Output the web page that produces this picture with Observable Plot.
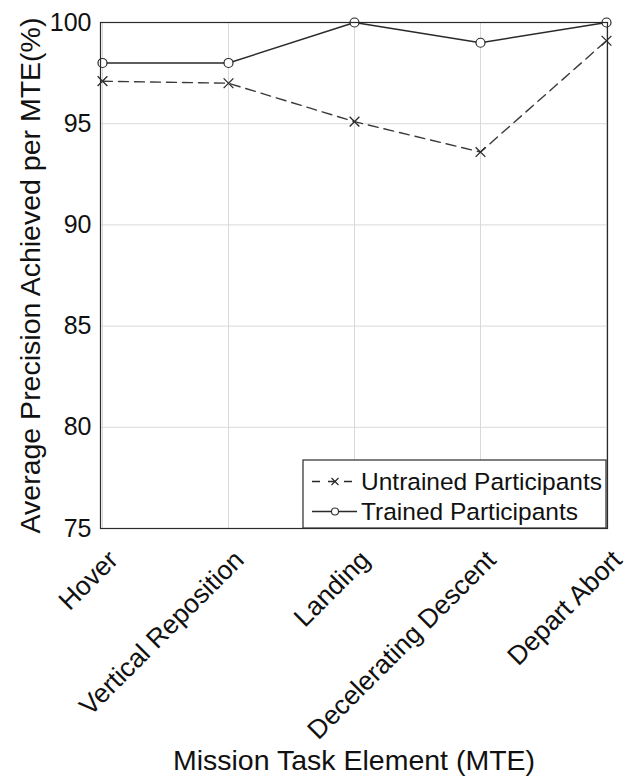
<!DOCTYPE html>
<html>
<head>
<meta charset="utf-8">
<script src="https://cdn.jsdelivr.net/npm/d3@7"></script>
<script src="https://cdn.jsdelivr.net/npm/@observablehq/plot@0.6"></script>
<style>
  html, body { margin: 0; padding: 0; background: #fff; }
  #chart { width: 629px; height: 778px; }
</style>
</head>
<body>
<div id="chart"></div>
<script>
const categories = ["Hover", "Vertical Reposition", "Landing", "Decelerating Descent", "Depart Abort"];
const untrained = [97.1, 97.0, 95.1, 93.6, 99.1];
const trained = [98.0, 98.0, 100.0, 99.0, 100.0];
const yTicks = [75, 80, 85, 90, 95, 100];
const seriesNames = ["Untrained Participants", "Trained Participants"];
const xTitle = "Mission Task Element (MTE)";
const yTitle = "Average Precision Achieved per MTE(%)";

const rowsU = categories.map((c, i) => ({cat: c, v: untrained[i]}));
const rowsT = categories.map((c, i) => ({cat: c, v: trained[i]}));

const FONT = "'Liberation Sans', Arial, Helvetica, sans-serif";
const ink = "#2b2b2b";

const plot = Plot.plot({
  width: 629,
  height: 778,
  marginLeft: 100,
  marginRight: 22,
  marginTop: 22,
  marginBottom: 250,
  style: {fontFamily: FONT, background: "#fff", color: ink},
  x: {type: "point", domain: categories, padding: 0},
  y: {domain: [75, 100]},
  marks: [
    Plot.gridX(categories, {stroke: "#d9d9d9", strokeOpacity: 1}),
    Plot.gridY(yTicks, {stroke: "#d9d9d9", strokeOpacity: 1}),
    Plot.axisY(yTicks, {tickSize: 0, tickPadding: 9, fontSize: 25, label: null, fill: "#111"}),
    Plot.axisX({ticks: [], label: null, tickSize: 0}),
    Plot.text(categories, {
      x: d => d, frameAnchor: "bottom", rotate: -45, textAnchor: "end", lineAnchor: "middle",
      dx: 11, dy: 27, fontSize: 26.5, fill: "#111"
    }),
    Plot.text([xTitle], {frameAnchor: "bottom", textAnchor: "middle", dy: 241, lineAnchor: "bottom", fontSize: 28.5, fill: "#111"}),
    Plot.text([yTitle], {frameAnchor: "left", textAnchor: "middle", dx: -70, rotate: -90, lineAnchor: "middle", fontSize: 28.5, fill: "#111"}),
    Plot.line(rowsU, {x: "cat", y: "v", stroke: "#3a3a3a", strokeWidth: 1.4, strokeDasharray: "10,6"}),
    Plot.line(rowsT, {x: "cat", y: "v", stroke: "#2a2a2a", strokeWidth: 1.4}),
    Plot.dot(rowsU, {x: "cat", y: "v", symbol: "times", r: 4.5, stroke: "#2a2a2a", strokeWidth: 1.3}),
    Plot.dot(rowsT, {x: "cat", y: "v", symbol: "circle", r: 4.5, stroke: "#2a2a2a", fill: "#fff", strokeWidth: 1.2}),
    Plot.frame({stroke: "#2a2a2a", strokeWidth: 1.2})
  ]
});

document.getElementById("chart").appendChild(plot);

// Legend inside the plot area (lower right)
const svg = d3.select(plot);
const xs = plot.scale("x"), ys = plot.scale("y");
const right = xs.apply(categories[categories.length - 1]);
const bottom = ys.apply(75);
const lg = svg.append("g").attr("font-family", FONT).attr("text-anchor", "start");
const bx = right - 303, by = bottom - 68;
lg.append("rect").attr("x", bx).attr("y", by).attr("width", 303).attr("height", 68)
  .attr("fill", "#fff").attr("stroke", "#2a2a2a").attr("stroke-width", 1.2);
const rowsY = [by + 21.5, by + 51.5];
seriesNames.forEach((name, i) => {
  const y = rowsY[i];
  lg.append("line").attr("x1", bx + 9).attr("x2", bx + 54).attr("y1", y).attr("y2", y)
    .attr("stroke", "#2a2a2a").attr("stroke-width", 1.3)
    .attr("stroke-dasharray", i === 0 ? "8,8" : null);
  if (i === 0) {
    const cx = bx + 32, s = 3.5;
    lg.append("path").attr("d", `M${cx - s},${y - s}L${cx + s},${y + s}M${cx - s},${y + s}L${cx + s},${y - s}`)
      .attr("stroke", "#2a2a2a").attr("stroke-width", 1.2).attr("fill", "none");
  } else {
    lg.append("circle").attr("cx", bx + 32).attr("cy", y).attr("r", 3.5)
      .attr("fill", "#fff").attr("stroke", "#2a2a2a").attr("stroke-width", 1.1);
  }
  lg.append("text").attr("x", bx + 58).attr("y", y).attr("dy", "0.35em")
    .attr("text-anchor", "start")
    .attr("font-size", 24.5).attr("fill", "#111").text(name);
});
</script>
</body>
</html>
